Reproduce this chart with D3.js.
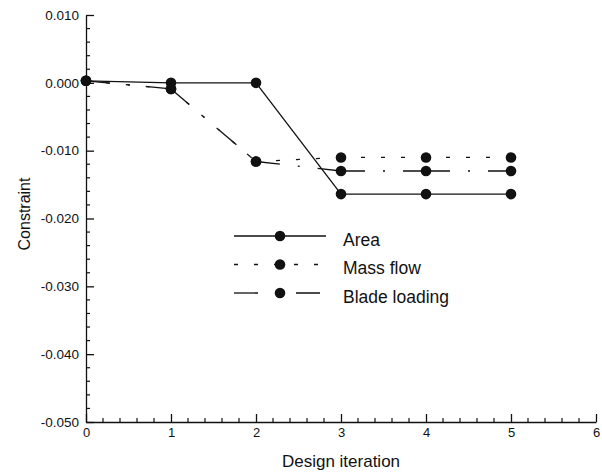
<!DOCTYPE html>
<html>
<head>
<meta charset="utf-8">
<script src="https://cdn.jsdelivr.net/npm/d3@7"></script>
<style>
  html, body { margin: 0; padding: 0; background: #fff; }
  svg { display: block; font-family: "Liberation Sans", Arial, Helvetica, sans-serif; }
</style>
</head>
<body>
<svg id="chart" width="602" height="474"></svg>
<script>
// ---- data ----
const iterations = [0, 1, 2, 3, 4, 5];
const areaValues = [0.0003, 0.0000, 0.0000, -0.0164, -0.0164, -0.0164];
const massFlowValues = [0.0003, -0.0009, -0.0116, -0.0110, -0.0110, -0.0110];
const bladeLoadingValues = [0.0003, -0.0009, -0.0116, -0.0130, -0.0130, -0.0130];
const seriesNames = ["Area", "Mass flow", "Blade loading"];
const xTickValues = [0, 1, 2, 3, 4, 5, 6];
const yTickValues = [0.010, 0.000, -0.010, -0.020, -0.030, -0.040, -0.050];
const xTitle = "Design iteration";
const yTitle = "Constraint";

// ---- layout ----
const svg = d3.select("#chart");
const mLeft = 86, mRight = 596, mTop = 15, mBottom = 422;
const x = d3.scaleLinear().domain([0, 6]).range([mLeft, mRight]);
const y = d3.scaleLinear().domain([-0.05, 0.01]).range([mBottom, mTop]);

const dashes = ["none", "4,16", "24,18,2,18"];
const seriesValues = [areaValues, massFlowValues, bladeLoadingValues];
const ink = "#111";

// ---- minor ticks ----
const xMinor = x.ticks(30).filter(v => Math.abs(v - Math.round(v)) > 1e-6);
const yMinor = y.ticks(30).filter(v => Math.abs(v * 100 - Math.round(v * 100)) > 1e-6);
svg.append("g").selectAll("line").data(xMinor).enter().append("line")
  .attr("x1", d => x(d)).attr("x2", d => x(d)).attr("y1", mBottom).attr("y2", mBottom - 4)
  .attr("stroke", ink).attr("stroke-width", 1.2);
svg.append("g").selectAll("line").data(yMinor).enter().append("line")
  .attr("x1", mLeft).attr("x2", mLeft + 4).attr("y1", d => y(d)).attr("y2", d => y(d))
  .attr("stroke", ink).attr("stroke-width", 1.2);

// ---- major axes ----
const gxMaj = svg.append("g").attr("transform", `translate(0,${mBottom})`);
gxMaj.call(d3.axisBottom(x).tickValues(xTickValues).tickSize(-8).tickPadding(6)
  .tickFormat(d3.format("d")).tickSizeOuter(0));
gxMaj.selectAll("text").attr("font-size", 13).attr("fill", ink)
  .attr("font-family", "'Liberation Sans', Arial, sans-serif");

const gyMaj = svg.append("g").attr("transform", `translate(${mLeft},0)`);
gyMaj.call(d3.axisLeft(y).tickValues(yTickValues).tickSize(-8).tickPadding(7)
  .tickFormat(d3.format(".3f")).tickSizeOuter(0));
gyMaj.selectAll("text").attr("font-size", 13.5).attr("fill", ink)
  .attr("font-family", "'Liberation Sans', Arial, sans-serif")
  .text(d => d3.format(".3f")(d).replace("\u2212", "-"));

svg.selectAll(".domain, .tick line").attr("stroke", ink).attr("stroke-width", 1.3);

// ---- axis titles ----
svg.append("text").attr("x", (mLeft + mRight) / 2).attr("y", 467)
  .attr("text-anchor", "middle").attr("font-size", 17).attr("fill", ink).text(xTitle);
svg.append("text").attr("transform", "translate(30,214) rotate(-90)")
  .attr("text-anchor", "middle").attr("font-size", 16).attr("fill", ink).text(yTitle);

// ---- series (each segment drawn separately so dash patterns restart) ----
const line = d3.line().x(d => x(d[0])).y(d => y(d[1]));
const plot = svg.append("g");
seriesValues.forEach((vals, si) => {
  for (let i = 0; i < iterations.length - 1; i++) {
    plot.append("path")
      .attr("d", line([[iterations[i], vals[i]], [iterations[i + 1], vals[i + 1]]]))
      .attr("fill", "none").attr("stroke", ink).attr("stroke-width", 1.3)
      .attr("stroke-dasharray", dashes[si]);
  }
});
seriesValues.forEach(vals => {
  plot.selectAll(null).data(iterations).enter().append("circle")
    .attr("cx", d => x(d)).attr("cy", (d, i) => y(vals[i])).attr("r", 5.3).attr("fill", ink);
});

// ---- legend ----
const legend = svg.append("g");
const legX0 = 234, legX1 = 326, legMarker = 280, legText = 343, legY0 = 236, legDy = 28.5;
seriesNames.forEach((name, i) => {
  const ly = legY0 + i * legDy;
  legend.append("line").attr("x1", legX0).attr("x2", legX1).attr("y1", ly).attr("y2", ly)
    .attr("stroke", ink).attr("stroke-width", 1.3).attr("stroke-dasharray", dashes[i]);
  legend.append("circle").attr("cx", legMarker).attr("cy", ly).attr("r", 5.3).attr("fill", ink);
  legend.append("text").attr("x", legText).attr("y", ly + 9.5).attr("font-size", 17.5)
    .attr("fill", ink).text(name);
});
</script>
</body>
</html>
